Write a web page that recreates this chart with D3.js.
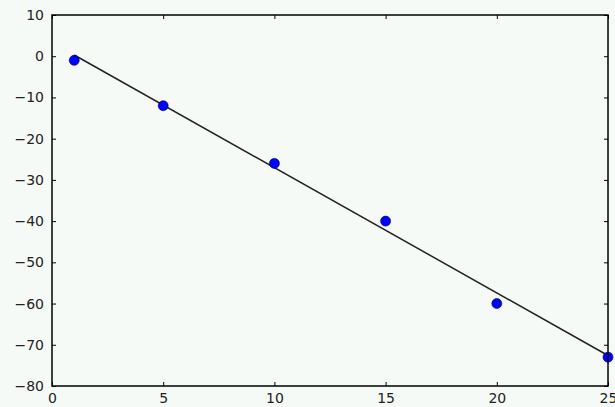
<!DOCTYPE html>
<html><head><meta charset="utf-8">
<script src="https://cdn.jsdelivr.net/npm/d3@7"></script>
<style>html,body{margin:0;padding:0;background:#f6faf7;}svg{display:block;}</style>
</head><body>
<script>
const xValues = [1, 5, 10, 15, 20, 25];
const yValues = [-1, -12, -26, -40, -60, -73];
const fitX = [1, 25];
const fitY = [0.3, -72.6];
const xTicks = [0, 5, 10, 15, 20, 25];
const yTicks = [10, 0, -10, -20, -30, -40, -50, -60, -70, -80];

const W = 615, H = 407;
const m = {left: 52, right: 7, top: 15, bottom: 21};
const svg = d3.select("body").append("svg").attr("width", W).attr("height", H);
svg.append("rect").attr("width", W).attr("height", H).attr("fill", "#f6faf7");

const x = d3.scaleLinear().domain([0, 25]).range([m.left, W - m.right]);
const y = d3.scaleLinear().domain([-80, 10]).range([H - m.bottom, m.top]);
const fmt = d => (d < 0 ? "\u2212" + Math.abs(d) : String(d));
const font = "DejaVu Sans, sans-serif";

function styleAxis(g){
  g.select(".domain").remove();
  g.selectAll("line").attr("stroke", "#000").attr("stroke-width", 1);
  g.selectAll("text").attr("font-family", font).attr("font-size", 14).attr("fill", "#222");
}
svg.append("g").attr("transform", `translate(0,${H - m.bottom})`)
  .call(d3.axisBottom(x).tickValues(xTicks).tickFormat(fmt).tickSizeInner(-4).tickSizeOuter(0).tickPadding(7))
  .call(styleAxis);
svg.append("g").attr("transform", `translate(0,${m.top})`)
  .call(d3.axisTop(x).tickValues(xTicks).tickFormat("").tickSizeInner(-4).tickSizeOuter(0))
  .call(styleAxis);
svg.append("g").attr("transform", `translate(${m.left},0)`)
  .call(d3.axisLeft(y).tickValues(yTicks).tickFormat(fmt).tickSizeInner(-4).tickSizeOuter(0).tickPadding(8))
  .call(styleAxis);
svg.append("g").attr("transform", `translate(${W - m.right},0)`)
  .call(d3.axisRight(y).tickValues(yTicks).tickFormat("").tickSizeInner(-4).tickSizeOuter(0))
  .call(styleAxis);

const plot = svg.append("g");
plot.append("path")
  .datum(fitX.map((v, i) => [v, fitY[i]]))
  .attr("d", d3.line().x(d => x(d[0])).y(d => y(d[1])))
  .attr("fill", "none").attr("stroke", "#222").attr("stroke-width", 1.5);

plot.selectAll("circle").data(xValues.map((v, i) => [v, yValues[i]])).enter()
  .append("circle")
  .attr("cx", d => x(d[0])).attr("cy", d => y(d[1])).attr("r", 5)
  .attr("fill", "#0000ff").attr("stroke", "#000044").attr("stroke-width", 0.6);

svg.append("rect").attr("x", m.left).attr("y", m.top)
  .attr("width", W - m.left - m.right).attr("height", H - m.top - m.bottom)
  .attr("fill", "none").attr("stroke", "#000").attr("stroke-width", 1.5);
</script>
</body></html>
